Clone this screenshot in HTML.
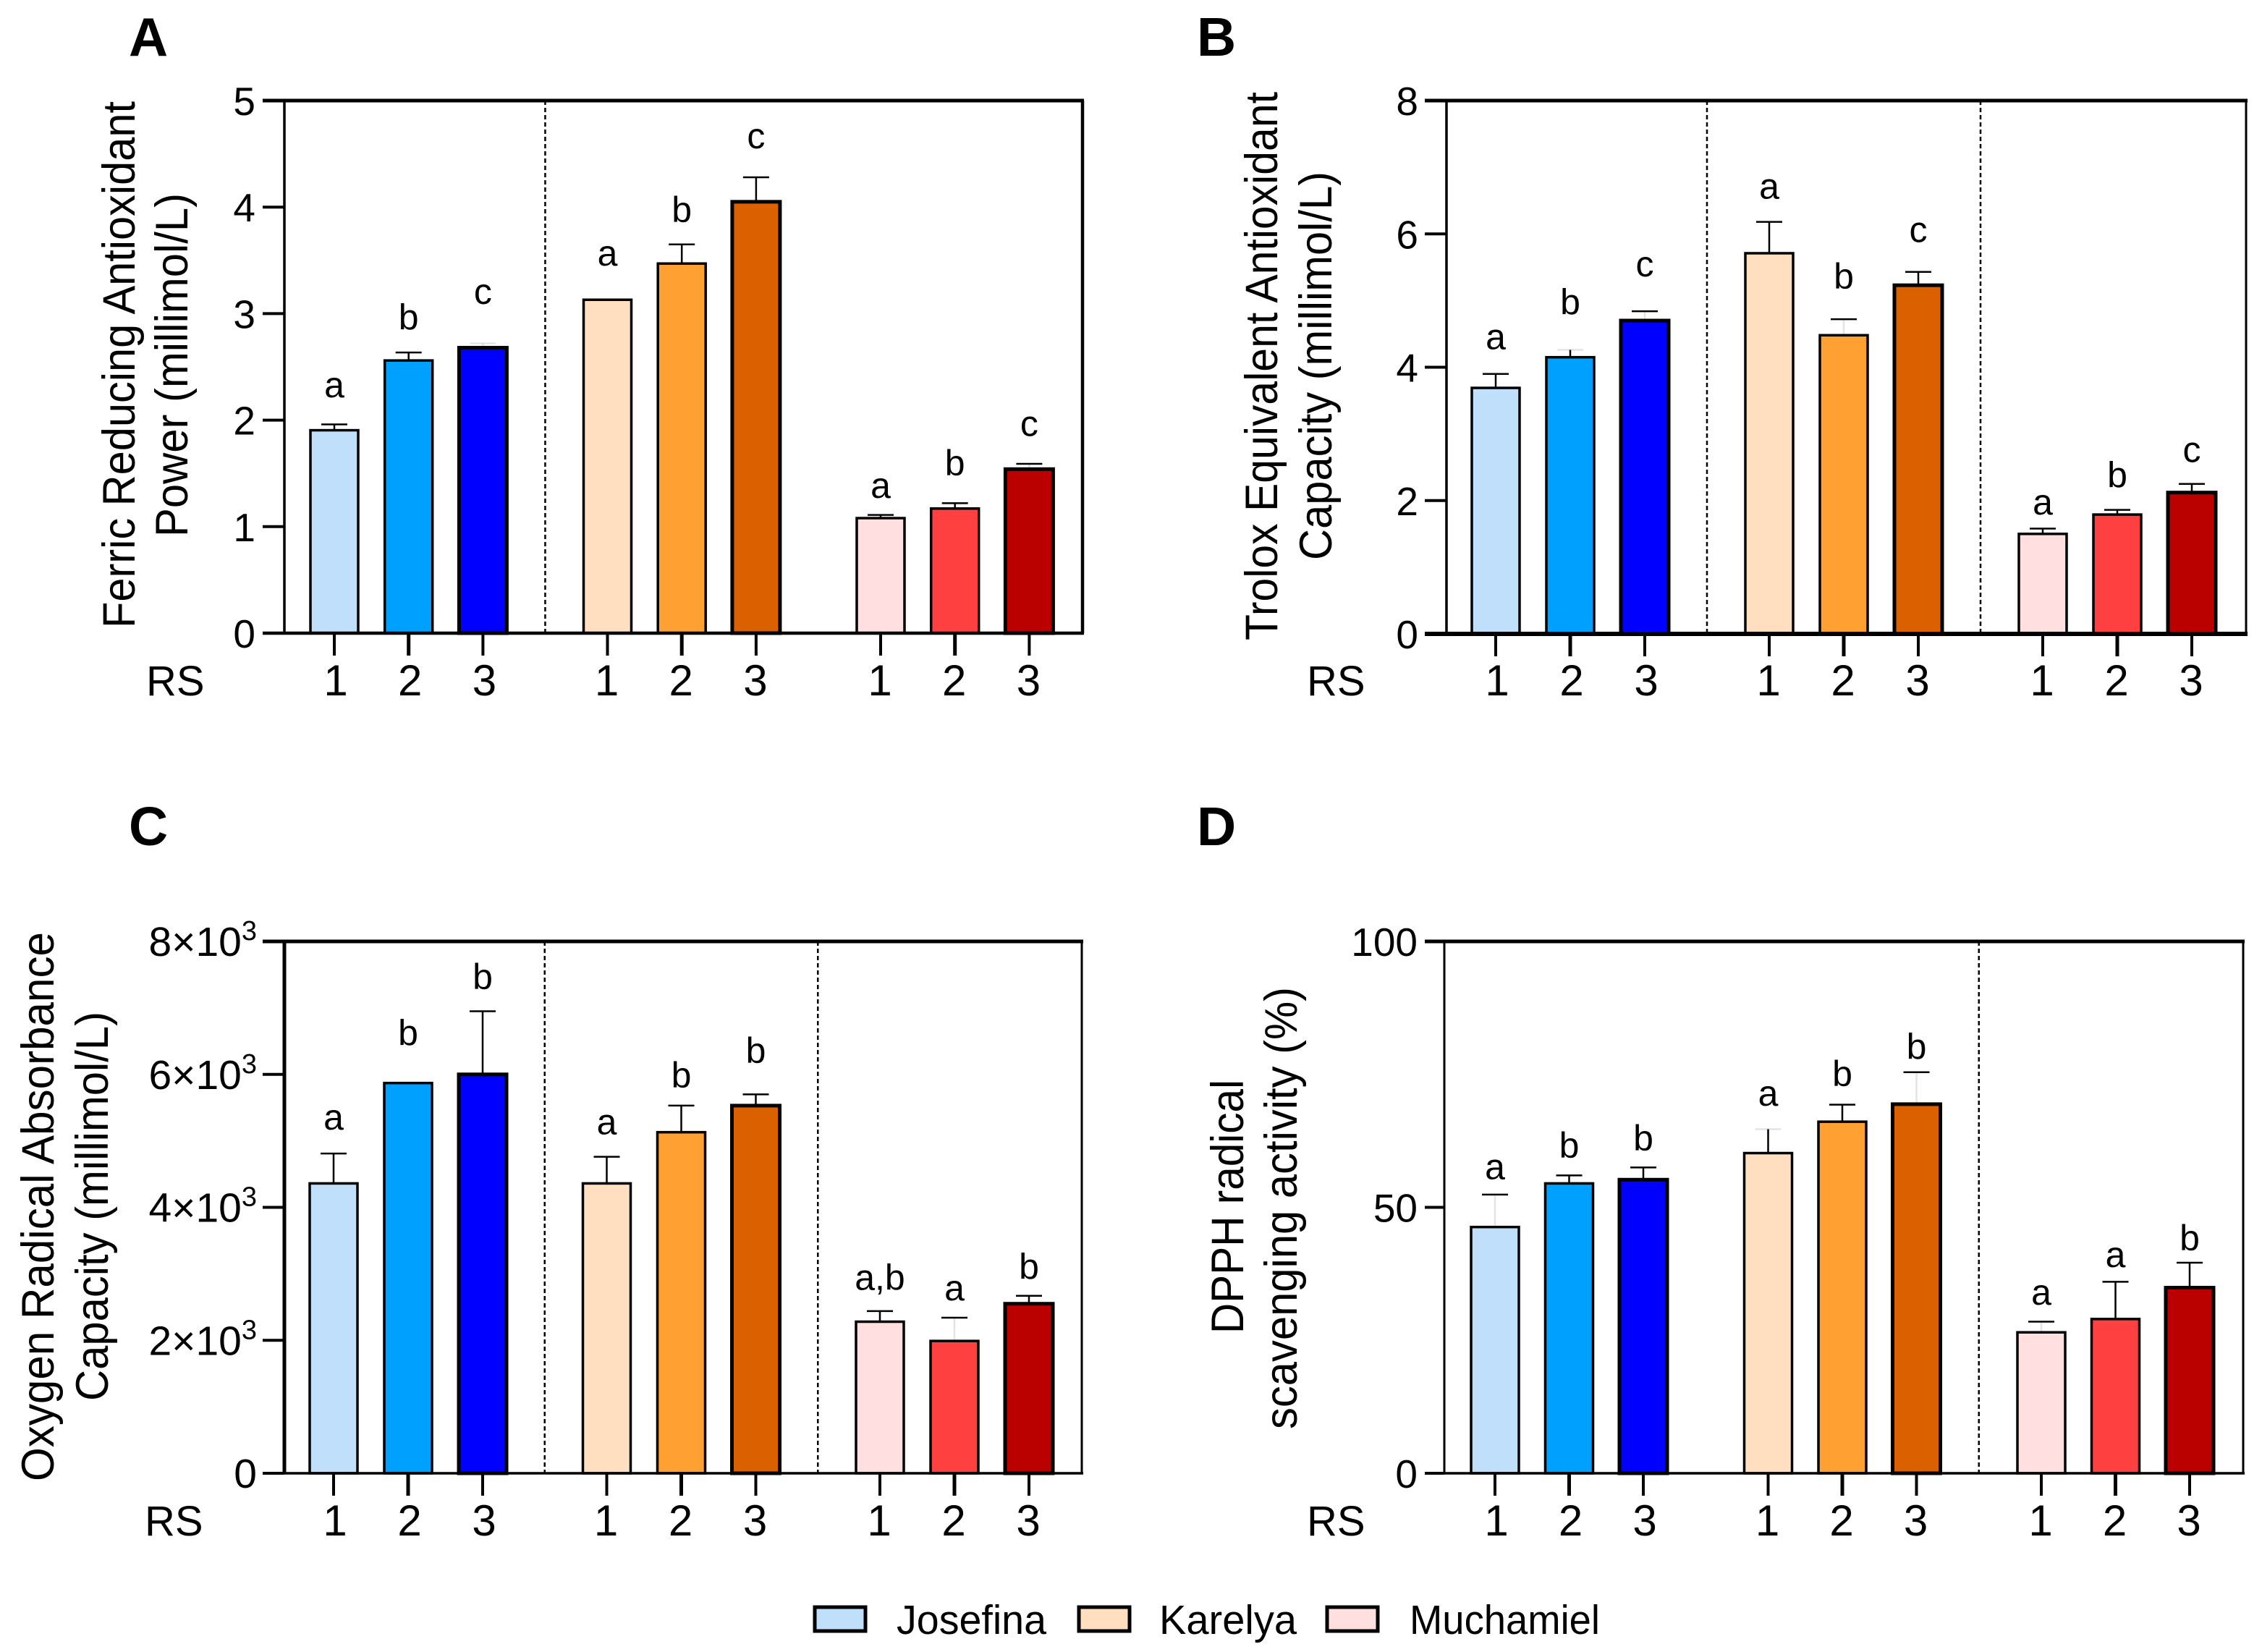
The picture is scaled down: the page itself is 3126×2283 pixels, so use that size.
<!DOCTYPE html>
<html lang="en">
<head>
<meta charset="utf-8">
<title>Antioxidant capacity by cultivar and RS</title>
<style>
html,body{margin:0;padding:0;background:#fff;width:3126px;height:2283px;overflow:hidden}
svg{display:block}
text{font-family:"Liberation Sans",Arial,sans-serif;fill:#000}
</style>
</head>
<body>
<svg id="figure" xmlns="http://www.w3.org/2000/svg" width="3126" height="2283" viewBox="0 0 3126 2283">
  <rect x="0" y="0" width="3126" height="2283" fill="#fff"/>
  <g>
    <g>
      <rect x="1126" y="2221" width="70" height="33" fill="#BFDFFB" stroke="#000" stroke-width="5"/>
      <text x="1239" y="2258" font-size="57" textLength="207" lengthAdjust="spacingAndGlyphs">Josefina</text>
    </g>
    <g>
      <rect x="1491" y="2221" width="70" height="33" fill="#FFDFBF" stroke="#000" stroke-width="5"/>
      <text x="1602" y="2258" font-size="57" textLength="190" lengthAdjust="spacingAndGlyphs">Karelya</text>
    </g>
    <g>
      <rect x="1834" y="2221" width="70" height="33" fill="#FFDFE0" stroke="#000" stroke-width="5"/>
      <text x="1948" y="2258" font-size="57" textLength="263" lengthAdjust="spacingAndGlyphs">Muchamiel</text>
    </g>
  </g>
</svg>
<script>
// Shared categories
const cultivars = ['josefina', 'karelya', 'muchamiel'];
const rsLabels = ['1', '2', '3'];
const barColors = ['#BFDFFB', '#00A0FF', '#0000FF', '#FFDFBF', '#FFA033', '#DB6000', '#FFDFE0', '#FF4040', '#BB0000'];

// Panel A: FRAP
const frapValues = [1.905, 2.56, 2.68, 3.13, 3.47, 4.05, 1.08, 1.17, 1.54];
const frapErrors = [0.055, 0.075, 0.04, 0, 0.18, 0.23, 0.03, 0.05, 0.05];
const frapStemVisible = [1, 1, 0, 0, 1, 1, 1, 1, 0];
const frapCapVisible = [1, 1, 0, 0, 1, 1, 1, 1, 1];
const frapLetters = ['a', 'b', 'c', 'a', 'b', 'c', 'a', 'b', 'c'];
const frapLetterLevels = [2.215, 2.85, 3.09, 3.45, 3.86, 4.55, 1.27, 1.48, 1.85];
const frapTicks = [0, 1, 2, 3, 4, 5];
const frapSeparators = [1];

// Panel B: TEAC
const teacValues = [3.69, 4.15, 4.70, 5.71, 4.48, 5.23, 1.50, 1.79, 2.12];
const teacErrors = [0.21, 0.11, 0.14, 0.47, 0.24, 0.20, 0.08, 0.07, 0.13];
const teacStemVisible = [1, 1, 0, 1, 0, 1, 1, 1, 1];
const teacCapVisible = [1, 0, 1, 1, 1, 1, 1, 1, 1];
const teacLetters = ['a', 'b', 'c', 'a', 'b', 'c', 'a', 'b', 'c'];
const teacLetterLevels = [4.27, 4.79, 5.36, 6.53, 5.18, 5.88, 1.79, 2.2, 2.58];
const teacTicks = [0, 2, 4, 6, 8];
const teacSeparators = [1, 2];

// Panel C: ORAC
const oracValues = [4360, 5870, 6000, 4360, 5130, 5530, 2280, 1990, 2550];
const oracErrors = [450, 0, 950, 400, 400, 170, 160, 350, 120];
const oracStemVisible = [1, 0, 1, 1, 1, 1, 1, 0, 1];
const oracCapVisible = [1, 0, 1, 1, 1, 1, 1, 1, 1];
const oracLetters = ['a', 'b', 'b', 'a', 'b', 'b', 'a,b', 'a', 'b'];
const oracLetterLevels = [5170, 6440, 7280, 5100, 5800, 6170, 2760, 2600, 2920];
const oracTicks = [0, 2000, 4000, 6000, 8000];
const oracSeparators = [1, 2];

// Panel D: DPPH
const dpphValues = [46.3, 54.5, 55.2, 60.2, 66.1, 69.4, 26.5, 29, 34.9];
const dpphErrors = [6.1, 1.5, 2.3, 4.5, 3.2, 6.0, 2.0, 7.0, 4.7];
const dpphStemVisible = [0, 1, 1, 1, 1, 0, 0, 1, 1];
const dpphCapVisible = [1, 1, 1, 0, 1, 1, 1, 1, 1];
const dpphLetters = ['a', 'b', 'b', 'a', 'b', 'b', 'a', 'a', 'b'];
const dpphLetterLevels = [55.3, 59.3, 60.7, 69.1, 72.8, 77.9, 31.7, 38.8, 41.9];
const dpphTicks = [0, 50, 100];
const dpphSeparators = [2];

const SVG_NS = 'http://www.w3.org/2000/svg';
const figure = document.getElementById('figure');

function make(tag, attrs, parent, content) {
  const node = document.createElementNS(SVG_NS, tag);
  for (const key in attrs) node.setAttribute(key, attrs[key]);
  if (content !== undefined) node.textContent = content;
  parent.appendChild(node);
  return node;
}

function formatSci(group, x, y, value) {
  const label = make('text', { x: x, y: y, 'font-size': 57, 'text-anchor': 'end' }, group);
  if (value === 0) {
    label.textContent = '0';
  } else {
    const base = make('tspan', {}, label, (value / 1000) + '\u00D710');
    
    
    const sup = make('tspan', { 'font-size': 38, dy: -22 }, label, '3');
    
    
  }
  return label;
}

function drawPanel(p) {
  const panel = make('g', {}, figure);
  
  

  const yScale = v => p.bottom - (v / p.maxValue) * (p.bottom - p.top);
  const xScale = i => p.barStart + Math.floor(i / 3) * p.groupStep + (i % 3) * p.barStep;
  const labelShift = i => (i < 3 ? 2 : -1);

  const letter = make('text', { x: p.letterX, y: p.letterY, 'font-size': 75, 'font-weight': 'bold' }, panel, p.letter);
  
  

  p.titleLines.forEach((line, n) => {
    const cy = (line.from + line.to) / 2;
    const title = make('text', {
      x: line.x, y: cy, 'font-size': 63, 'text-anchor': 'middle',
      textLength: line.to - line.from, lengthAdjust: 'spacingAndGlyphs',
      transform: 'rotate(-90 ' + line.x + ' ' + cy + ')'
    }, panel, line.text);
    
    
  });

  p.separators.forEach(s => {
    const sepX = p.barStart + s * p.groupStep - (p.groupStep - 2 * p.barStep) / 2;
    const sep = make('line', { x1: sepX, x2: sepX, y1: p.top, y2: p.bottom, stroke: '#000', 'stroke-width': 2.5, 'stroke-dasharray': '6 4' }, panel);
    
    
  });

  p.values.forEach((value, i) => {
    const cx = xScale(i);
    const series = i % 3;
    const sw = series === 2 ? 5 : 3.5;
    const errorValue = p.errors[i];
    if (errorValue > 0) {
      const errTop = yScale(value + errorValue);
      const stem = make('line', { x1: cx, x2: cx, y1: errTop, y2: yScale(value), stroke: '#000', 'stroke-width': 2.5, opacity: p.stemVisible[i] ? 1 : 0.1 }, panel);
      
      
      const cap = make('line', { x1: cx - 18, x2: cx + 18, y1: errTop, y2: errTop, stroke: '#000', 'stroke-width': 2.5, opacity: p.capVisible[i] ? 1 : 0.1 }, panel);
      
      
    }
    const barTop = yScale(value);
    const bar = make('rect', {
      x: cx - 33, y: barTop, width: 66, height: p.bottom - barTop,
      fill: barColors[i], stroke: '#000', 'stroke-width': sw
    }, panel);
    
    

    const sig = make('text', { x: cx, y: yScale(p.letterLevels[i]), 'font-size': 50, 'text-anchor': 'middle' }, panel, p.letters[i]);
    
    

    const tick = make('line', { x1: cx, x2: cx, y1: p.bottom, y2: p.bottom + 31, stroke: '#000', 'stroke-width': series === 1 ? 5 : 4 }, panel);
    
    

    const tickLabel = make('text', { x: cx + labelShift(i), y: p.xLabelY, 'font-size': 60, 'text-anchor': 'middle' }, panel, rsLabels[series]);
    
    
  });

  const rsLabel = make('text', { x: p.rsX, y: p.xLabelY, 'font-size': 58 }, panel, 'RS');
  
  

  const frameLeft = make('line', { x1: p.left, x2: p.left, y1: p.top, y2: p.bottom, stroke: '#000', 'stroke-width': p.leftWidth }, panel);
  
  
  const frameRight = make('line', { x1: p.right, x2: p.right, y1: p.top, y2: p.bottom, stroke: '#000', 'stroke-width': p.rightWidth }, panel);
  
  
  const frameTop = make('line', { x1: p.tickStart, x2: p.right + 2, y1: p.top, y2: p.top, stroke: '#000', 'stroke-width': 5 }, panel);
  
  
  const frameBottom = make('line', { x1: p.tickStart, x2: p.right + 2, y1: p.bottom, y2: p.bottom, stroke: '#000', 'stroke-width': p.bottomWidth }, panel);
  
  

  p.ticks.forEach(t => {
    const ty = yScale(t);
    const yTick = make('line', { x1: p.tickStart, x2: p.left, y1: ty, y2: ty, stroke: '#000', 'stroke-width': 4 }, panel);
    
    
    const yLabel = p.sci
      ? formatSci(panel, p.yLabelX, ty + 20, t)
      : make('text', { x: p.yLabelX, y: ty + 20, 'font-size': 55, 'text-anchor': 'end' }, panel, String(t));
    
    
  });
}

drawPanel({
  key: 'a', letter: 'A', letterX: 178, letterY: 77,
  left: 393, right: 1496, top: 139, bottom: 875, tickStart: 363, yLabelX: 353,
  leftWidth: 3.5, rightWidth: 4.5, bottomWidth: 4.5,
  barStart: 462, barStep: 102.7, groupStep: 377.5, xLabelY: 961, rsX: 202,
  maxValue: 5, ticks: frapTicks, values: frapValues, errors: frapErrors,
  stemVisible: frapStemVisible, capVisible: frapCapVisible,
  letters: frapLetters, letterLevels: frapLetterLevels, separators: frapSeparators,
  titleLines: [
    { text: 'Ferric Reducing Antioxidant', x: 186, from: 140, to: 868 },
    { text: 'Power (millimol/L)', x: 259, from: 267, to: 742 }
  ]
});

drawPanel({
  key: 'b', letter: 'B', letterX: 1654, letterY: 77,
  left: 1999, right: 3104, top: 139, bottom: 876, tickStart: 1969, yLabelX: 1960,
  leftWidth: 3.5, rightWidth: 3, bottomWidth: 6,
  barStart: 2067, barStep: 103, groupStep: 378, xLabelY: 961, rsX: 1806,
  maxValue: 8, ticks: teacTicks, values: teacValues, errors: teacErrors,
  stemVisible: teacStemVisible, capVisible: teacCapVisible,
  letters: teacLetters, letterLevels: teacLetterLevels, separators: teacSeparators,
  titleLines: [
    { text: 'Trolox Equivalent Antioxidant', x: 1765, from: 127, to: 885 },
    { text: 'Capacity (millimol/L)', x: 1840, from: 237, to: 774 }
  ]
});

drawPanel({
  key: 'c', letter: 'C', letterX: 178, letterY: 1168,
  left: 393, right: 1495, top: 1301, bottom: 2036, tickStart: 363, yLabelX: 355,
  leftWidth: 5, rightWidth: 3, bottomWidth: 3.5,
  barStart: 461, barStep: 103, groupStep: 377.5, xLabelY: 2122, rsX: 200,
  maxValue: 8000, ticks: oracTicks, sci: true, values: oracValues, errors: oracErrors,
  stemVisible: oracStemVisible, capVisible: oracCapVisible,
  letters: oracLetters, letterLevels: oracLetterLevels, separators: oracSeparators,
  titleLines: [
    { text: 'Oxygen Radical Absorbance', x: 74, from: 1288, to: 2047 },
    { text: 'Capacity (millimol/L)', x: 149, from: 1398, to: 1936 }
  ]
});

drawPanel({
  key: 'd', letter: 'D', letterX: 1654, letterY: 1168,
  left: 1996, right: 3100, top: 1301, bottom: 2036, tickStart: 1969, yLabelX: 1959,
  leftWidth: 3, rightWidth: 3, bottomWidth: 3.5,
  barStart: 2066, barStep: 102.5, groupStep: 377.5, xLabelY: 2122, rsX: 1806,
  maxValue: 100, ticks: dpphTicks, values: dpphValues, errors: dpphErrors,
  stemVisible: dpphStemVisible, capVisible: dpphCapVisible,
  letters: dpphLetters, letterLevels: dpphLetterLevels, separators: dpphSeparators,
  titleLines: [
    { text: 'DPPH radical', x: 1718, from: 1492, to: 1843 },
    { text: 'scavenging activity (%)', x: 1792, from: 1364, to: 1975 }
  ]
});
</script>
</body>
</html>
